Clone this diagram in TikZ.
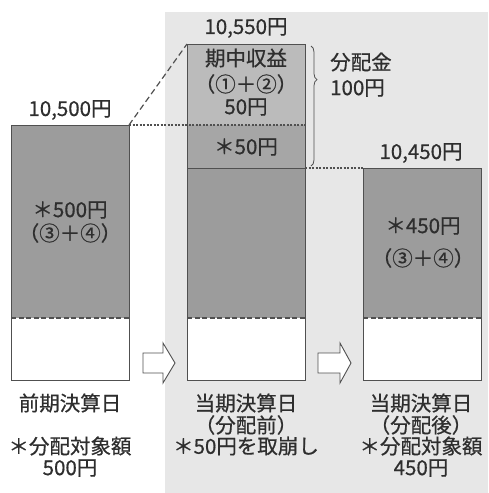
\documentclass[tikz,border=0pt]{standalone}
\usepackage{fontspec}
\setmainfont{Noto Sans CJK JP}
\newfontfamily\jpmed[FakeBold=0.6]{Noto Sans CJK JP}
\usetikzlibrary{decorations.pathreplacing}
\definecolor{panelgray}{HTML}{E7E7E7}
\definecolor{fundgray}{HTML}{9C9C9C}
\definecolor{gaingray}{HTML}{BBBBBB}
\definecolor{cutgray}{HTML}{A6A6A6}
\definecolor{inkgray}{HTML}{2E2E2E}
\definecolor{edgegray}{HTML}{505050}
\tikzset{
  boxedge/.style={draw=edgegray,line width=1pt},
  splitline/.style={draw=edgegray,line width=1.2pt,dash pattern=on 5pt off 2.5pt},
  lbl/.style={text=inkgray,inner sep=0pt},
  blockarrow/.style={draw=edgegray,fill=white,line width=0.9pt,line join=miter},
}
\begin{document}
\begin{tikzpicture}[x=1pt,y=-1pt,font=\jpmed\fontsize{20.5}{22}\selectfont]
\useasboundingbox (0,0) rectangle (488,493);
\fill[panelgray] (165,12) rectangle (488,493);
% previous closing day
\fill[fundgray] (11,125) rectangle (129,318);
\fill[white] (11,318) rectangle (129,380);
\draw[splitline] (11,318) -- (129,318);
\draw[boxedge] (11,125) rectangle (129,380);
\coordinate (prevtop) at (129,125);
% current day, before distribution
\fill[gaingray] (187,44) rectangle (305,125);
\fill[cutgray] (187,125) rectangle (305,168);
\fill[fundgray] (187,168) rectangle (305,318);
\fill[white] (187,318) rectangle (305,380);
\draw[splitline] (187,318) -- (305,318);
\draw[boxedge] (187,168) -- (305,168);
\draw[boxedge] (187,44) rectangle (305,380);
\coordinate (midtop) at (187,44);
\coordinate (midcut) at (305,168);
% current day, after distribution
\fill[fundgray] (363,168) rectangle (481,318);
\fill[white] (363,318) rectangle (481,380);
\draw[splitline] (363,318) -- (481,318);
\draw[boxedge] (363,168) rectangle (481,380);
\coordinate (nexttop) at (363,168);
% guide lines
\draw[edgegray,line width=1.2pt,dash pattern=on 6pt off 3.5pt] (prevtop) -- (midtop);
\draw[edgegray,line width=1.2pt,dash pattern=on 2pt off 1.5pt] (prevtop) -- (305,125);
\draw[edgegray,line width=1.2pt,dash pattern=on 2pt off 1.5pt] (midcut) -- (nexttop);
\draw[edgegray,line width=0.8pt,decorate,decoration={brace,amplitude=6pt,aspect=0.28}]
  (311,46) -- (311,166);
% block arrows
\draw[blockarrow] (143,353) -- (163,353) -- (163,343) -- (175,363) -- (163,383) -- (163,373) -- (143,373) -- cycle;
\draw[blockarrow] (318,353) -- (340,353) -- (340,343) -- (351,363) -- (340,383) -- (340,373) -- (318,373) -- cycle;
% amounts above the boxes
\node[lbl] (prevval) at (70,110) {10,500円};
\node[lbl] (midval) at (246,28) {10,550円};
\node[lbl] (nextval) at (421,153) {10,450円};
% inside the boxes
\node[lbl] (previn1) at (70,210) {＊500円};
\node[lbl] (previn2) at (70,233) {（③＋④）};
\node[lbl] (gain1) at (246,58) {期中収益};
\node[lbl] (gain2) at (246,84) {（①＋②）};
\node[lbl] (gain3) at (246,107) {50円};
\node[lbl] (cut) at (246,147) {＊50円};
\node[lbl] (nextin1) at (423,226) {＊450円};
\node[lbl] (nextin2) at (423,258) {（③＋④）};
\node[lbl,anchor=west] (dist1) at (330,62) {分配金};
\node[lbl,anchor=west] (dist2) at (330,88) {100円};
% captions
\node[lbl] (prevcap1) at (70,403) {前期決算日};
\node[lbl] (prevcap2) at (70,446) {＊分配対象額};
\node[lbl] (prevcap3) at (70,468) {500円};
\node[lbl] (midcap1) at (246,403) {当期決算日};
\node[lbl] (midcap2) at (246,425) {（分配前）};
\node[lbl] (midcap3) at (246,446) {＊50円を取崩し};
\node[lbl] (nextcap1) at (421,403) {当期決算日};
\node[lbl] (nextcap2) at (421,425) {（分配後）};
\node[lbl] (nextcap3) at (421,446) {＊分配対象額};
\node[lbl] (nextcap4) at (421,468) {450円};
\end{tikzpicture}
\end{document}
